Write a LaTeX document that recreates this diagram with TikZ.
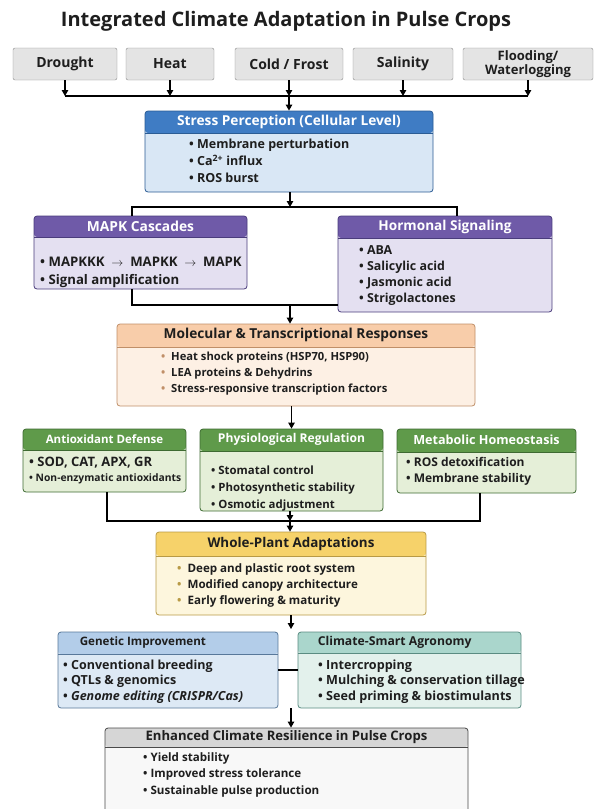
\documentclass[tikz,border=0pt]{standalone}
\usepackage{fontspec}
\setmainfont{Open Sans}
\usetikzlibrary{arrows.meta,positioning}
\definecolor{ink}{HTML}{1E1E1E}
\definecolor{chipfill}{HTML}{E4E4E4}
\definecolor{chipline}{HTML}{8A8A8A}
\definecolor{bluehead}{HTML}{3F7CC4}
\definecolor{bluebody}{HTML}{D9E7F5}
\definecolor{blueline}{HTML}{2B5C94}
\definecolor{purphead}{HTML}{6F5AA8}
\definecolor{purpbody}{HTML}{E4E0F1}
\definecolor{purpline}{HTML}{4A3C7C}
\definecolor{peachhead}{HTML}{F8CDAA}
\definecolor{peachbody}{HTML}{FDF0E4}
\definecolor{peachline}{HTML}{C08F68}
\definecolor{greenhead}{HTML}{5F9A4A}
\definecolor{greenbody}{HTML}{E5EFD8}
\definecolor{greenline}{HTML}{3E6A32}
\definecolor{yellowhead}{HTML}{F6D26A}
\definecolor{yellowbody}{HTML}{FDF6DD}
\definecolor{yellowline}{HTML}{B89A45}
\definecolor{skyhead}{HTML}{B3CDE9}
\definecolor{skybody}{HTML}{DDE9F5}
\definecolor{skyline}{HTML}{58789A}
\definecolor{tealhead}{HTML}{AAD6CC}
\definecolor{tealbody}{HTML}{E3F1EC}
\definecolor{tealline}{HTML}{5A8C82}
\definecolor{greyhead}{HTML}{D6D6D6}
\definecolor{greybody}{HTML}{F8F8F8}
\definecolor{greyline}{HTML}{4A4A4A}
\newcommand{\itm}[1][ink]{{\color{#1}\textbullet}\ }

\begin{document}
\begin{tikzpicture}[x=1pt,y=-1pt,font=\fontsize{11}{16}\selectfont\bfseries,
  chip/.style={draw=chipline,fill=chipfill,rounded corners=2pt,minimum height=32,
               align=center,inner sep=1pt,text=ink,font=\fontsize{14}{14}\selectfont\bfseries},
  panel/.style n args={4}{draw=#3,fill=#2,rounded corners=3pt,line width=0.8pt,inner sep=0pt,
    path picture={\fill[#1] (path picture bounding box.north west) rectangle
        ([yshift=-#4]path picture bounding box.north east);
      \draw[#3,line width=0.6pt] ([yshift=-#4]path picture bounding box.north west) --
        ([yshift=-#4]path picture bounding box.north east);}},
  head/.style={inner sep=0pt,font=\fontsize{#1}{14}\selectfont\bfseries},
  head/.default=13.5,
  items/.style n args={2}{anchor=west,align=left,inner sep=0pt,text=ink,
                          font=\fontsize{#1}{#2}\selectfont\bfseries},
  arr/.style={-{Triangle[length=6pt,width=6.5pt]},line width=1.1pt},
  line/.style={line width=1.1pt}]

\useasboundingbox (0,0) rectangle (603,809);
\clip (0,0) rectangle (603,809);

\node[text=ink,inner sep=0pt] (title) at (286,21)
  {\fontsize{20}{22}\selectfont Integrated Climate Adaptation in Pulse Crops};

% stressors
\node[chip,minimum width=104] (drought)  at (65,64)  {Drought};
\node[chip,minimum width=88]  (heat)     at (170,64) {Heat};
\node[chip,minimum width=108] (cold)     at (289,64) {Cold / Frost};
\node[chip,minimum width=100] (salinity) at (403,64) {Salinity};
\node[chip,minimum width=130,font=\fontsize{13}{13.5}\selectfont\bfseries] (flood) at (528,64)
  {Flooding/\\Waterlogging};
\coordinate (bus) at (0,96);

% panels
\node[panel={bluehead}{bluebody}{blueline}{22},minimum width=288,minimum height=81] (stress) at (289,151.5) {};
\node[head=13.7,text=white] (stress-t) at ([yshift=-11]stress.north) {Stress Perception (Cellular Level)};
\node[items={12.5}{17}] (stress-l) at (189,161) {\itm Membrane perturbation\\\itm Ca\textsuperscript{2+} influx\\\itm ROS burst};

\node[panel={purphead}{purpbody}{purpline}{21},minimum width=213,minimum height=73] (mapk) at (140.5,252.5) {};
\node[head=13.8,text=white] (mapk-t) at ([yshift=-10.5]mapk.north) {MAPK Cascades};
\node[items={13.2}{18}] (mapk-l) at (40,272) {\itm MAPKKK ${}\rightarrow{}$ MAPKK ${}\rightarrow{}$ MAPK\\\itm Signal amplification};

\node[panel={purphead}{purpbody}{purpline}{22},minimum width=214,minimum height=96] (hormone) at (445,264) {};
\node[head=13.6,text=white] (hormone-t) at ([yshift=-11]hormone.north) {Hormonal Signaling};
\node[items={12.4}{15.7}] (hormone-l) at (359,275.5) {\itm ABA\\\itm Salicylic acid\\\itm Jasmonic acid\\\itm Strigolactones};

\node[panel={peachhead}{peachbody}{peachline}{23},minimum width=358,minimum height=82] (molec) at (296,365) {};
\node[head=13.7,text=ink] (molec-t) at ([yshift=-11.5]molec.north) {Molecular \& Transcriptional Responses};
\node[items={11.2}{16}] (molec-l) at (161,374) {\itm[peachline] Heat shock proteins (HSP70, HSP90)\\\itm[peachline] LEA proteins \& Dehydrins\\\itm[peachline] Stress-responsive transcription factors};

\node[panel={greenhead}{greenbody}{greenline}{21},minimum width=163,minimum height=63] (antiox) at (104.5,460.5) {};
\node[head=11.5,text=white] (antiox-t) at ([yshift=-10.5]antiox.north) {Antioxidant Defense};
\node[items={13}{15}] (antiox-l) at (29,470.5) {\itm SOD, CAT, APX, GR\\{\fontsize{10.3}{12}\selectfont\itm Non-enzymatic antioxidants}};

\node[panel={greenhead}{greenbody}{greenline}{22},minimum width=183,minimum height=82] (physio) at (291.5,470) {};
\node[head=12.1,text=white] (physio-t) at ([yshift=-11]physio.north) {Physiological Regulation};
\node[items={11.4}{17}] (physio-l) at (211,489) {\itm Stomatal control\\\itm Photosynthetic stability\\\itm Osmotic adjustment};

\node[panel={greenhead}{greenbody}{greenline}{23},minimum width=179,minimum height=64] (metab) at (486.5,461) {};
\node[head=12.6,text=white] (metab-t) at ([yshift=-11.5]metab.north) {Metabolic Homeostasis};
\node[items={12}{16}] (metab-l) at (406,471) {\itm ROS detoxification\\\itm Membrane stability};

\node[panel={yellowhead}{yellowbody}{yellowline}{24},minimum width=270,minimum height=83] (plant) at (291,573.5) {};
\node[head=13.4,text=ink] (plant-t) at ([yshift=-12]plant.north) {Whole-Plant Adaptations};
\node[items={11.6}{16}] (plant-l) at (177,585) {\itm[yellowline] Deep and plastic root system\\\itm[yellowline] Modified canopy architecture\\\itm[yellowline] Early flowering \& maturity};

\node[panel={skyhead}{skybody}{skyline}{22},minimum width=220,minimum height=76] (genetic) at (168,670) {};
\node[head=11.6,text=ink,anchor=west] (genetic-t) at ([xshift=22,yshift=-11]genetic.north west) {Genetic Improvement};
\node[items={12.5}{15.5}] (genetic-l) at (63,681.5) {\itm Conventional breeding\\\itm QTLs \& genomics\\\itm \textit{Genome editing (CRISPR/Cas)}};

\node[panel={tealhead}{tealbody}{tealline}{21},minimum width=223,minimum height=76] (agro) at (409.5,670) {};
\node[head=12.2,text=ink,anchor=west] (agro-t) at ([xshift=20,yshift=-10.5]agro.north west) {Climate-Smart Agronomy};
\node[items={12.6}{15.5}] (agro-l) at (318,681.5) {\itm Intercropping\\\itm Mulching \& conservation tillage\\\itm Seed priming \& biostimulants};

\node[panel={greyhead}{greybody}{greyline}{19},minimum width=363,minimum height=112] (result) at (286.5,784) {};
\node[head=13.1,text=ink] (result-t) at ([yshift=-9.5]result.north) {Enhanced Climate Resilience in Pulse Crops};
\node[items={11.6}{16.5}] (result-l) at (143,774.5) {\itm Yield stability\\\itm Improved stress tolerance\\\itm Sustainable pulse production};

% connectors
\draw[arr] (drought) -- (drought.south |- bus); \draw[arr] (heat) -- (heat.south |- bus);
\draw[arr] (cold) -- (cold.south |- bus); \draw[arr] (salinity) -- (salinity.south |- bus);
\draw[arr] (flood) -- (flood.south |- bus);
\draw[line] (drought.south |- bus) -- (flood.south |- bus);
\draw[arr] (cold.south |- bus) -- (stress.north -| cold.south);

\coordinate (j1) at (290,207); \coordinate (j2) at (290,305);
\draw[arr] (stress.south -| j1) -- (j1);
\draw[line] ([xshift=-8.5]mapk.north) |- (j1) -| ([xshift=12]hormone.north);
\draw[line] ([xshift=-8.5]mapk.south) |- (hormone.west |- j2);
\draw[arr] (j2) -- (molec.north -| j2);
\draw[arr] (molec.south -| physio.north) -- (physio.north);

\coordinate (j3) at (290,521);
\draw[arr] (physio.south -| j3) -- (j3);
\draw[line] ([xshift=2.5]antiox.south) |- (j3) -| ([xshift=-6.5]metab.south);
\draw[arr] (j3) -- (plant.north -| j3);

\coordinate (j4) at (291,629); \coordinate (j5) at (291,708);
\draw[arr] (plant.south -| j4) -- (j4);
\draw[line] (genetic.east) -- (agro.west);
\draw[arr] (j5) -- (result.north -| j5);
\end{tikzpicture}
\end{document}
